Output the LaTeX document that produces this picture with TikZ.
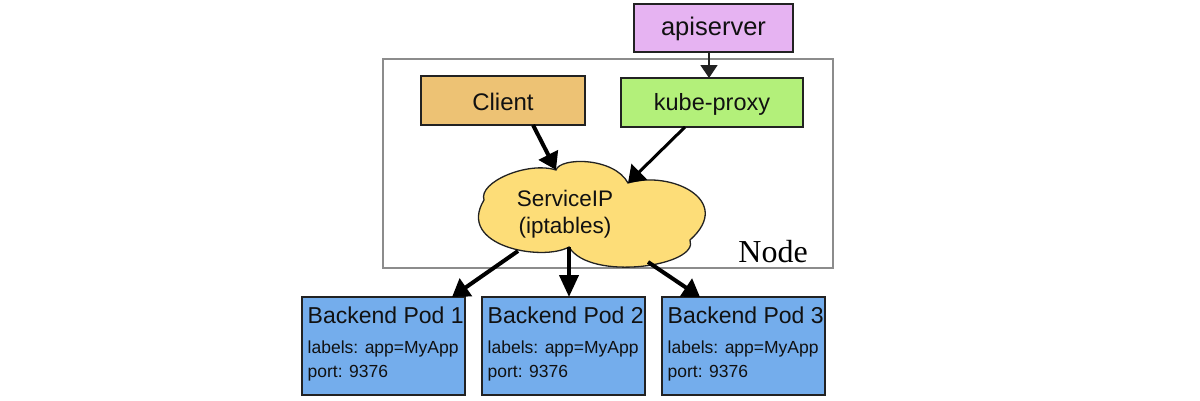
\documentclass[tikz,border=0pt]{standalone}
\usepackage{fontspec}
\setmainfont{Liberation Sans}
\newfontfamily\hostserif{Liberation Serif}
\usetikzlibrary{arrows.meta}
\definecolor{apicol}{HTML}{E6B3F2}
\definecolor{clientcol}{HTML}{EDC274}
\definecolor{proxycol}{HTML}{B3F07A}
\definecolor{podcol}{HTML}{74ADEC}
\definecolor{cloudcol}{HTML}{FDDD78}
\definecolor{edgecol}{HTML}{222222}
\definecolor{hostcol}{HTML}{8C8C8C}
\definecolor{txtcol}{HTML}{111111}
\tikzset{
  box/.style={draw=edgecol, line width=1.5pt, inner sep=0pt, outer sep=0pt,
    text=txtcol, text depth=0pt, anchor=center},
  pod/.style={draw=edgecol, line width=1.5pt, fill=podcol, inner sep=0pt, outer sep=0pt,
    minimum width=163pt, minimum height=98pt},
  podtitle/.style={anchor=base west, inner sep=0pt, text=txtcol, font=\fontsize{23}{27}\selectfont},
  podline/.style={anchor=base west, inner sep=0pt, text=txtcol, font=\fontsize{17.5}{21}\selectfont},
  bigarrow/.style={line width=4pt, -{Triangle[length=17pt,width=21pt]}},
  downarrow/.style={line width=4pt, -{Triangle[length=22pt,width=19pt]}},
  midarrow/.style={line width=3pt, -{Triangle[length=16pt,width=22pt]}},
  thinarrow/.style={line width=1.5pt, -{Triangle[length=13pt,width=17pt]}},
}
\begin{document}
\begin{tikzpicture}[x=1pt,y=-1pt]
\useasboundingbox (0,0) rectangle (1200,400);
\fill[white] (0,0) rectangle (1200,400);

% host node frame
\node[draw=hostcol, line width=1.3pt, inner sep=0pt, outer sep=0pt,
  minimum width=450pt, minimum height=209pt] (host) at (608,163.5) {};
\node[anchor=base east, inner sep=0pt, font=\hostserif\fontsize{32}{36}\selectfont] (hostlabel) at (808,262) {Node};

% boxes
\node[box, fill=apicol, minimum width=159pt, minimum height=48pt, text height=14pt,
  font=\fontsize{25.5}{30}\selectfont] (api) at (713.5,28) {apiserver};
\node[box, fill=clientcol, minimum width=164pt, minimum height=49pt, text height=19pt,
  font=\fontsize{24}{28}\selectfont] (client) at (503,100.5) {Client};
\node[box, fill=proxycol, minimum width=182pt, minimum height=49pt, text height=15pt,
  font=\fontsize{23.5}{28}\selectfont] (proxy) at (712,102.5) {kube-proxy};

% cloud
\coordinate (ne) at (484,200);
\coordinate (na) at (556,170);
\coordinate (nb) at (628,183);
\coordinate (nc) at (690,240);
\coordinate (nd) at (569,247);
\coordinate (outone) at (518,251);
\coordinate (outthree) at (648,262);
\draw[draw=edgecol, line width=1.3pt, fill=cloudcol]
  (ne) .. controls (478,182) and (528,161) .. (na)
       .. controls (560,157) and (614,157) .. (nb)
       .. controls (670,170) and (735,200) .. (nc)
       .. controls (700,266) and (590,282) .. (nd)
       .. controls (542,262) and (456,246) .. (ne) -- cycle;
\node[anchor=base, inner sep=0pt, text=txtcol, font=\fontsize{22.5}{27}\selectfont] (svcone) at (565,206) {ServiceIP};
\node[anchor=base, inner sep=0pt, text=txtcol, font=\fontsize{22.5}{27}\selectfont] (svctwo) at (565,233) {(iptables)};

% pods
\node[pod] (pod1) at (383.5,346) {};
\node[pod] (pod2) at (563.5,346) {};
\node[pod] (pod3) at (743.5,346) {};
\foreach \p/\n in {pod1/1,pod2/2,pod3/3}{
  \node[podtitle] (\p t) at ([xshift=5.5pt,yshift=-26pt]\p.north west) {Backend Pod \n};
  \node[podline] (\p l) at ([xshift=5.5pt,yshift=-56pt]\p.north west) {labels: app=MyApp};
  \node[podline] (\p p) at ([xshift=5.5pt,yshift=-80pt]\p.north west) {port: 9376};
}

% connectors
\draw[thinarrow, draw=edgecol, fill=edgecol] ([xshift=-4.5pt]api.south) -- ([xshift=-3pt]proxy.north);
\draw[bigarrow, draw=black] ([xshift=30pt]client.south) -- (na);
\draw[midarrow, draw=black] ([xshift=-27pt]proxy.south) -- (nb);
\draw[bigarrow, draw=black] (outone) -- ([xshift=-13pt]pod1.north east);
\draw[downarrow, draw=black] (nd) -- ([xshift=5.5pt]pod2.north);
\draw[bigarrow, draw=black] (outthree) -- ([xshift=38pt]pod3.north west);
\end{tikzpicture}
\end{document}
